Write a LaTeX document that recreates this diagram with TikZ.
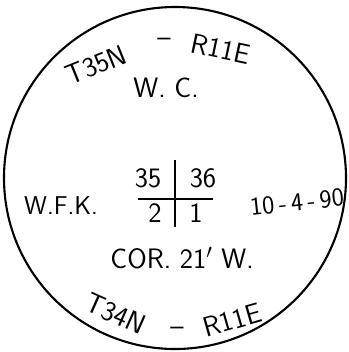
\documentclass[tikz,border=0pt]{standalone}
\usetikzlibrary{positioning}
\tikzset{
  ring/.style={draw=black, line width=1.8pt, circle, inner sep=0pt},
  hand/.style={font=\sffamily\fontsize{24}{28}\selectfont, inner sep=0pt},
  small/.style={font=\sffamily\fontsize{22}{26}\selectfont, inner sep=0pt},
  rule/.style={line width=1.6pt, draw=black}
}
\begin{document}
\begin{tikzpicture}[x=0.03cm,y=-0.03cm]
\useasboundingbox (0,0) rectangle (349,352);

% Section circle
\node[ring, minimum size=10.26cm] (sec) at (175,178) {};

% Township lines round the rim
\node[hand, rotate=22] (tnorth) at (96,65) {T35N};
\node[hand] (dnorth) at (164,42) {--};
\node[hand, rotate=-12] (rnorth) at (221,49) {R11E};
\node[hand, rotate=-24] (tsouth) at (116,314) {T34N};
\node[hand] (dsouth) at (177,331) {--};
\node[hand, rotate=16] (rsouth) at (232,320) {R11E};

% Notes
\node[hand] (wc) at (166,88) {W.\ C.};
\node[small] (wfk) at (61,206) {W.F.K.};
\node[small, rotate=6] (date) at (297,202) {10\,-\,4\,-\,90};
\node[hand] (cor) at (182,258) {COR.\ 21$'$\ W.};

% Section corner cross
\coordinate (vtop) at (175,160);
\coordinate (vbot) at (175,227);
\coordinate (hleft) at (138,199);
\coordinate (hright) at (213,199);
\draw[rule] (vtop) -- (vbot);
\draw[rule] (hleft) -- (hright);
\node[hand] (s35) at (148,178) {35};
\node[hand] (s36) at (203,178) {36};
\node[hand] (s2) at (155,213) {2};
\node[hand] (s1) at (196,213) {1};

\end{tikzpicture}
\end{document}
